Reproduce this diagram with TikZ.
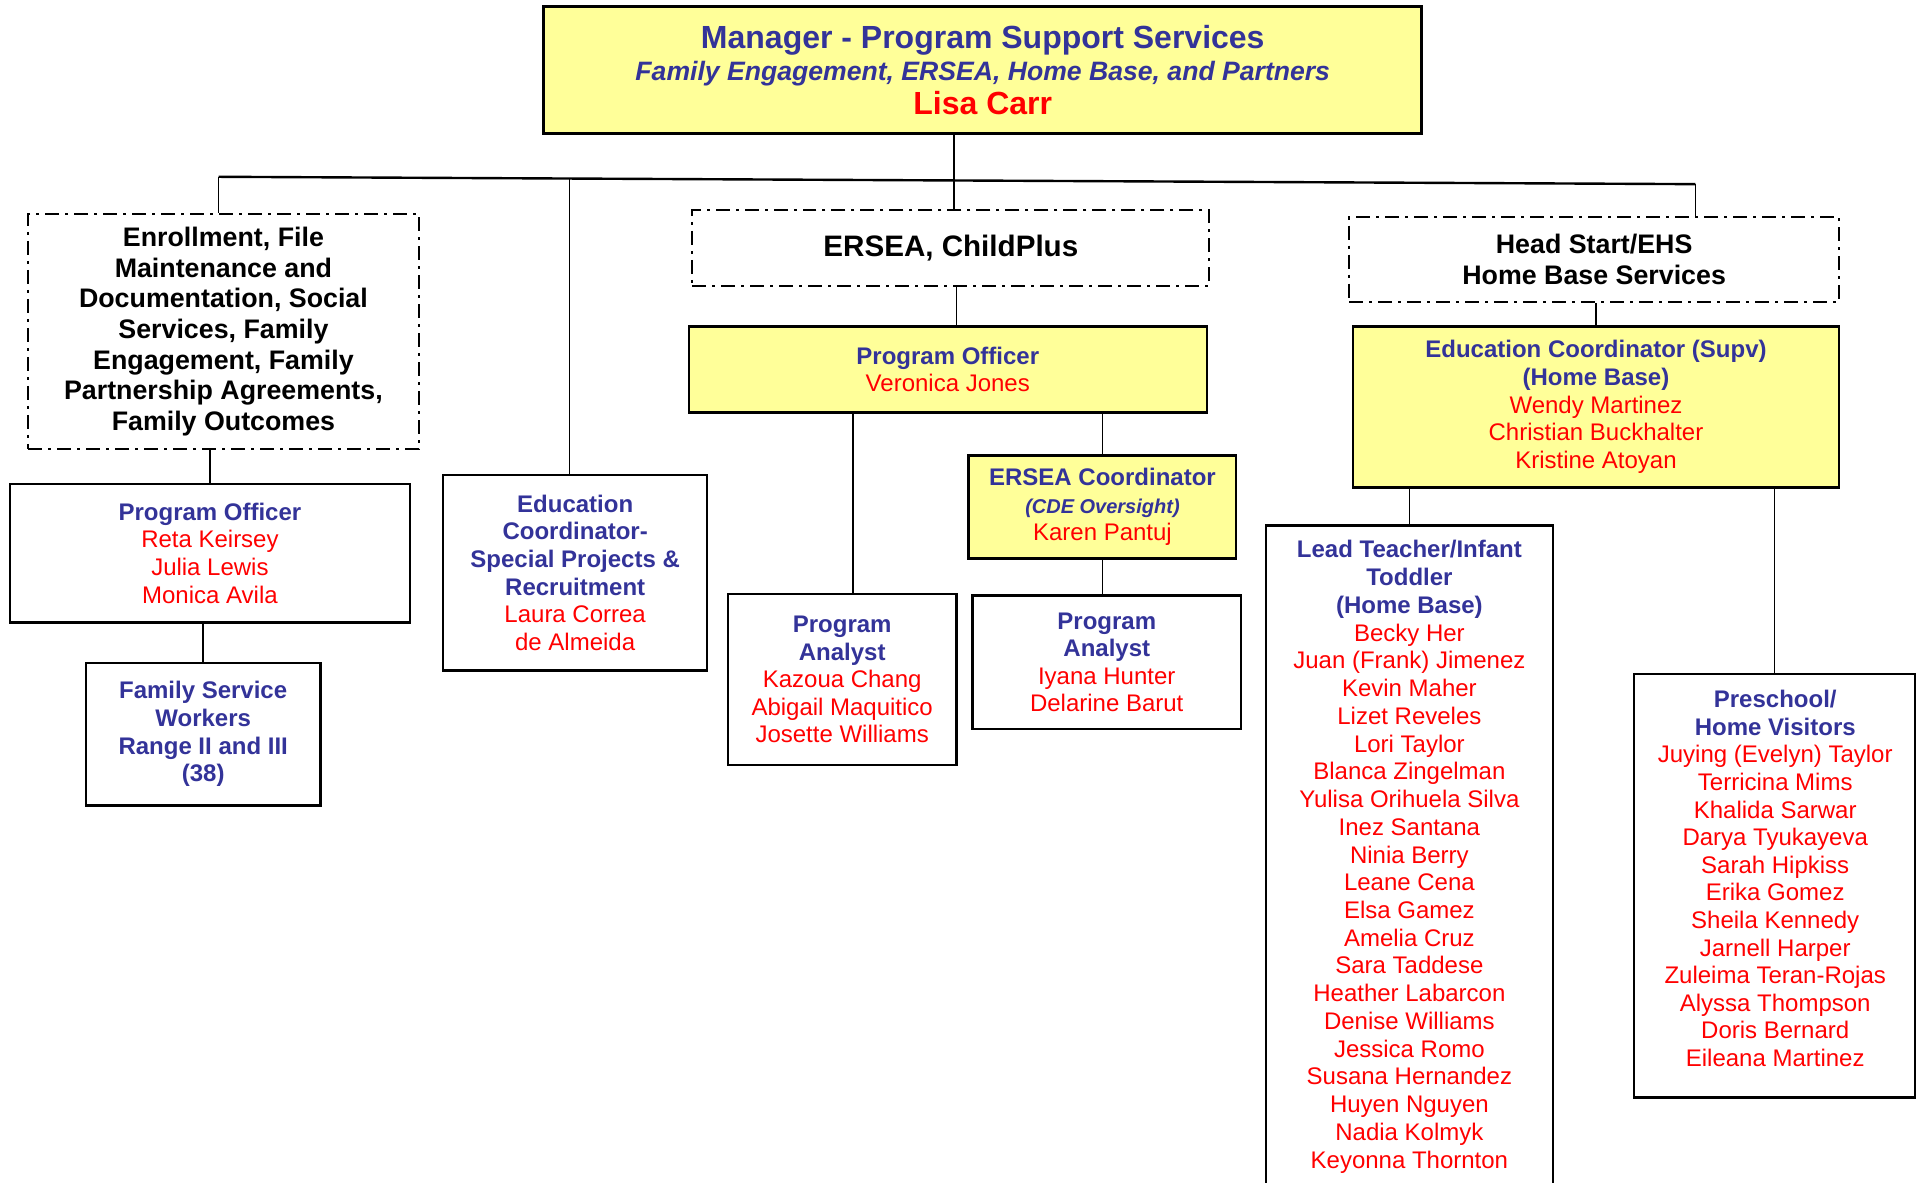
\documentclass[tikz,border=0pt]{standalone}
\usepackage{fontspec}
\setmainfont{Liberation Sans}
\usepackage{tikz}
\definecolor{navy}{HTML}{333399}
\definecolor{boxyellow}{HTML}{FFFF99}
\newcommand{\role}[1]{{\color{navy}\bfseries #1}}
\def\px{0.614pt}

\begin{document}
\begin{tikzpicture}[x=0.614pt,y=-0.614pt]
  \tikzstyle{every node}=[align=center, inner sep=0pt, text=red, font=\fontsize{12}{13.8}\selectfont]
  \tikzstyle{plain}=[draw, line width=1.2pt, fill=white]
  \tikzstyle{yel}=[draw, line width=1.2pt, fill=boxyellow]
  \tikzstyle{dashdot}=[draw, line width=1pt, dash pattern=on 7pt off 3pt on 1.5pt off 3pt, text=black, font=\fontsize{13.4}{15.35}\selectfont\bfseries]
  \tikzstyle{link}=[line width=0.8pt]
  \useasboundingbox (0,0) rectangle (1568,963);

  % top
  \node[yel, line width=1.5pt, minimum width=715*\px, minimum height=104*\px, font=\fontsize{16}{16.9}\selectfont] (mgr) at (800.5,57)
    {\role{Manager - Program Support Services}\\[-1pt] {\fontsize{13.3}{16.9}\selectfont\role{\itshape Family Engagement, ERSEA, Home Base, and Partners}}\\ {\fontsize{16}{16.9}\selectfont\bfseries Lisa Carr}};

  % trunk
  \coordinate (tl) at (178,144);
  \coordinate (tr) at (1381,150);
  \coordinate (j1) at (464,145.4);
  \coordinate (j2) at (777,147);

  % groups
  \node[dashdot, minimum width=318*\px, minimum height=192*\px] (enroll) at (182,270)
    {Enrollment, File\\ Maintenance and\\ Documentation, Social\\ Services, Family\\ Engagement, Family\\ Partnership Agreements,\\ Family Outcomes};
  \node[dashdot, minimum width=421*\px, minimum height=62*\px, font=\fontsize{14.8}{16}\selectfont\bfseries] (ersea) at (774.5,202) {ERSEA, ChildPlus};
  \node[dashdot, minimum width=399*\px, minimum height=69*\px] (hs) at (1298.5,211.5) {Head Start/EHS\\ Home Base Services};

  % left
  \node[plain, minimum width=326*\px, minimum height=113*\px] (po1) at (171,450.5)
    {\role{Program Officer}\\ Reta Keirsey\\ Julia Lewis\\ Monica Avila};
  \node[plain, minimum width=191*\px, minimum height=116*\px] (fsw) at (165.5,598)
    {\role{Family Service}\\ \role{Workers}\\ \role{Range II and III}\\ \role{(38)}};
  \node[plain, minimum width=215*\px, minimum height=159*\px] (edu) at (468.5,466.5)
    {\role{Education}\\ \role{Coordinator-}\\ \role{Special Projects \&}\\ \role{Recruitment}\\ Laura Correa\\ de Almeida};

  % middle
  \node[yel, minimum width=422*\px, minimum height=70*\px] (po2) at (772,301)
    {\role{Program Officer}\\ Veronica Jones};
  \node[plain, minimum width=186*\px, minimum height=139*\px] (pa1) at (686,553.5)
    {\role{Program}\\ \role{Analyst}\\ Kazoua Chang\\ Abigail Maquitico\\ Josette Williams};
  \node[yel, minimum width=218*\px, minimum height=84*\px] (ec) at (898,413)
    {\role{ERSEA Coordinator}\\ {\fontsize{10}{13.8}\selectfont\role{\itshape (CDE Oversight)}}\\ Karen Pantuj};
  \node[plain, minimum width=219*\px, minimum height=109*\px] (pa2) at (901.5,539.5)
    {\role{Program}\\ \role{Analyst}\\ Iyana Hunter\\ Delarine Barut};

  % right
  \node[yel, minimum width=396*\px, minimum height=131*\px] (supv) at (1300,331.5)
    {\role{Education Coordinator (Supv)}\\ \role{(Home Base)}\\ Wendy Martinez\\ Christian Buckhalter\\ Kristine Atoyan};
  \node[plain, minimum width=234*\px, minimum height=572*\px] (leadbox) at (1148,714) {};
  \node[anchor=north, font=\fontsize{12}{13.87}\selectfont] (lead) at (1148,440)
    {\role{Lead Teacher/Infant}\\ \role{Toddler}\\ \role{(Home Base)}\\ Becky Her\\ Juan (Frank) Jimenez\\ Kevin Maher\\ Lizet Reveles\\ Lori Taylor\\ Blanca Zingelman\\ Yulisa Orihuela Silva\\ Inez Santana\\ Ninia Berry\\ Leane Cena\\ Elsa Gamez\\ Amelia Cruz\\ Sara Taddese\\ Heather Labarcon\\ Denise Williams\\ Jessica Romo\\ Susana Hernandez\\ Huyen Nguyen\\ Nadia Kolmyk\\ Keyonna Thornton};
  \node[plain, minimum width=229*\px, minimum height=345*\px] (prebox) at (1445.5,721.5) {};
  \node[anchor=north] (pre) at (1446,562)
    {\role{Preschool/}\\ \role{Home Visitors}\\ Juying (Evelyn) Taylor\\ Terricina Mims\\ Khalida Sarwar\\ Darya Tyukayeva\\ Sarah Hipkiss\\ Erika Gomez\\ Sheila Kennedy\\ Jarnell Harper\\ Zuleima Teran-Rojas\\ Alyssa Thompson\\ Doris Bernard\\ Eileana Martinez};

  % lines
  \draw[line width=1.2pt] (tl) -- (tr);
  \draw[link] (mgr.south -| j2) -- (j2);
  \draw[link] (tl) -- (enroll.north -| tl);
  \draw[link] (j1) -- (edu.north -| j1);
  \draw[link] (j2) -- (ersea.north -| j2);
  \draw[link] (tr) -- (hs.north -| tr);
  \draw[link] (po1.north) -- (po1.north |- enroll.south);
  \draw[link] (fsw.north) -- (fsw.north |- po1.south);
  \draw[link] ([xshift=4.5*\px]ersea.south) -- ([xshift=4.5*\px]ersea.south |- po2.north);
  \draw[link] ([xshift=9*\px]pa1.north) -- ([xshift=9*\px]pa1.north |- po2.south);
  \draw[link] (ec.north) -- (ec.north |- po2.south);
  \draw[link] (ec.south) -- (ec.south |- pa2.north);
  \draw[link] (supv.north) -- (supv.north |- hs.south);
  \draw[link] (leadbox.north) -- (leadbox.north |- supv.south);
  \draw[link] (prebox.north) -- (prebox.north |- supv.south);
\end{tikzpicture}
\end{document}
